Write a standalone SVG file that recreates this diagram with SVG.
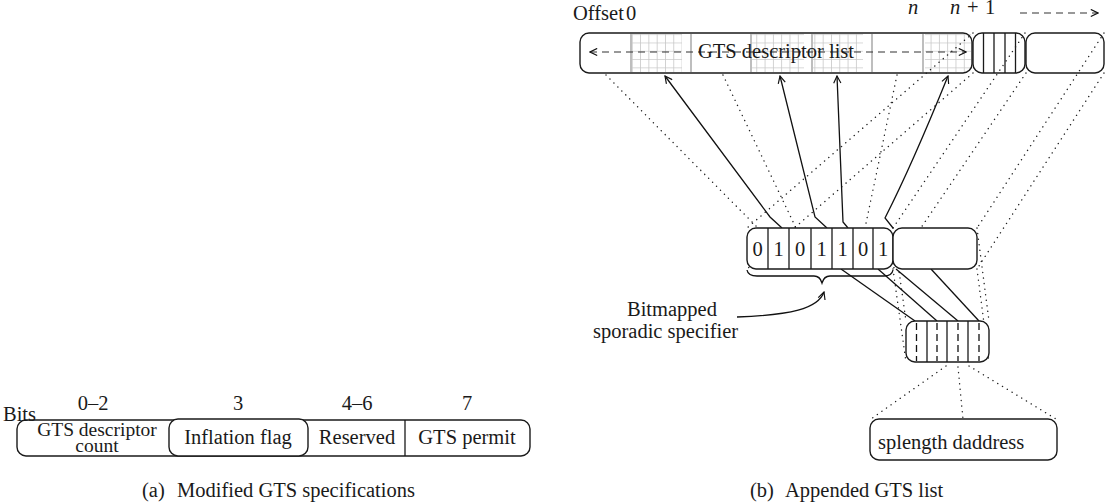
<svg xmlns="http://www.w3.org/2000/svg" width="1105" height="504" viewBox="0 0 1105 504">
<style>
text{font-family:"Liberation Serif","Times New Roman",serif;font-size:20.5px;fill:#1a1a1a}
.it{font-style:italic}
.box{fill:none;stroke:#1a1a1a;stroke-width:1.4}
.wbox{fill:#fff;stroke:#1a1a1a;stroke-width:1.4}
.cell{stroke:#1a1a1a;stroke-width:1.3}
.gdiv{stroke:#a8a8a8;stroke-width:1.5}
.dot{fill:none;stroke:#222;stroke-width:1.4;stroke-dasharray:0.1 5.5;stroke-linecap:round}
.sol{fill:none;stroke:#111;stroke-width:1.3}
.dash{fill:none;stroke:#333;stroke-width:1.2;stroke-dasharray:7 5}
.vdash{stroke:#111;stroke-width:1.3;stroke-dasharray:7 4}
.tight{font-size:19.5px}
</style>
<defs>
<pattern id="grid" patternUnits="userSpaceOnUse" x="1" y="1" width="8.3" height="8.3">
<path d="M0 0H8.3M0 0V8.3" stroke="#c8c8c8" stroke-width="1.6" fill="none"/>
</pattern>
<marker id="open" viewBox="0 0 10 10" refX="9" refY="5" markerWidth="9" markerHeight="9" orient="auto-start-reverse" markerUnits="userSpaceOnUse">
<path d="M1 1L9 5L1 9" fill="none" stroke="#111" stroke-width="1.3"/>
</marker>
</defs>

<!-- (a) modified GTS specification field -->
<g id="gts-spec">
<text x="3" y="421">Bits</text>
<text x="93" y="410" text-anchor="middle">0–2</text>
<text x="238" y="410" text-anchor="middle">3</text>
<text x="357" y="410" text-anchor="middle">4–6</text>
<text x="467" y="410" text-anchor="middle">7</text>
<rect class="box" x="17" y="420" width="513" height="36" rx="9"/>
<line class="cell" x1="405" y1="420" x2="405" y2="456"/>
<rect class="wbox" x="169" y="419" width="139" height="37" rx="9"/>
<text class="tight" x="97" y="436" text-anchor="middle">GTS descriptor</text>
<text class="tight" x="97" y="452" text-anchor="middle">count</text>
<text x="238" y="444" text-anchor="middle">Inflation flag</text>
<text x="357" y="444" text-anchor="middle">Reserved</text>
<text x="467" y="444" text-anchor="middle">GTS permit</text>
</g>
<g id="caption-a"><text x="142" y="497">(a)</text><text x="177" y="497">Modified GTS specifications</text></g>

<!-- (b) appended GTS list -->
<g id="offset-labels">
<text x="573" y="20">Offset<tspan x="626">0</tspan></text>
<text class="it" x="908" y="14">n</text>
<text x="950" y="14"><tspan class="it">n</tspan><tspan x="967">+</tspan><tspan x="985">1</tspan></text>
<path class="dash" d="M1020 13H1098" marker-end="url(#open)"/>
</g>

<g id="descriptor-list">
<rect x="632" y="34" width="50" height="38" fill="url(#grid)"/>
<rect x="752" y="34" width="52" height="38" fill="url(#grid)"/>
<rect x="813" y="34" width="50" height="38" fill="url(#grid)"/>
<rect x="925" y="34" width="46" height="38" fill="url(#grid)"/>
<g class="gdiv">
<line x1="631" y1="34" x2="631" y2="72"/>
<line x1="691" y1="34" x2="691" y2="72"/>
<line x1="751" y1="34" x2="751" y2="72"/>
<line x1="812" y1="34" x2="812" y2="72"/>
<line x1="872" y1="34" x2="872" y2="72"/>
<line x1="923" y1="34" x2="923" y2="72"/>
</g>
<rect class="box" x="580" y="33" width="392" height="40" rx="9"/>
<path class="dash" d="M590 52H966" marker-start="url(#open)" marker-end="url(#open)"/>
<text x="698" y="58">GTS descriptor list</text>
</g>

<g id="bitmap-slot">
<rect class="box" x="973" y="33" width="52" height="40" rx="9"/>
<g class="cell">
<line x1="983.5" y1="33" x2="983.5" y2="73"/>
<line x1="994" y1="33" x2="994" y2="73"/>
<line x1="1005" y1="33" x2="1005" y2="73"/>
<line x1="1015.5" y1="33" x2="1015.5" y2="73"/>
</g>
</g>
<g id="next-slot"><rect class="box" x="1026" y="33" width="78" height="40" rx="9"/></g>

<!-- projection lines -->
<g id="connectors">
<g class="dot">
<path d="M606 75L758 228"/>
<path d="M723 75L796 228"/>
<path d="M897 75L865 228"/>
<path d="M973 33L747 228"/>
<path d="M973 73L747 269"/>
<path d="M1025 33L893 228"/>
<path d="M1026 73L893 269"/>
<path d="M1104 33L977 228"/>
<path d="M1104 73L977 269"/>
<path d="M893 228L906 321"/>
<path d="M893 269L906 362"/>
<path d="M977 228L989 321"/>
<path d="M977 269L989 362"/>
<path d="M946 366L871 419"/>
<path d="M958 367L963 419"/>
<path d="M969 366L1056 419"/>
</g>
<g class="sol">
<path d="M782 228L770 217L665 76" marker-end="url(#open)"/>
<path d="M827 228L815 217L780 76" marker-end="url(#open)"/>
<path d="M848 228L843 222L837 76" marker-end="url(#open)"/>
<path d="M893 228L885 218Q912 165 948 76" marker-end="url(#open)"/>
<path d="M841 269L915 321"/>
<path d="M878 269L937 321"/>
<path d="M896 269L958 321"/>
<path d="M931 269L979 321"/>
<path d="M747 270Q748 276 757 276H814Q820 276 822 283Q824 276 830 276H884Q892 276 893 270"/>
<path d="M737 317C790 315 818 309 824 292" marker-end="url(#open)"/>
</g>
</g>

<g id="bitmap">
<rect class="wbox" x="747" y="228" width="146" height="41" rx="9"/>
<g class="cell">
<line x1="768" y1="228" x2="768" y2="269"/>
<line x1="789" y1="228" x2="789" y2="269"/>
<line x1="811" y1="228" x2="811" y2="269"/>
<line x1="832" y1="228" x2="832" y2="269"/>
<line x1="853" y1="228" x2="853" y2="269"/>
<line x1="873" y1="228" x2="873" y2="269"/>
</g>
<g text-anchor="middle">
<text x="757.5" y="256">0</text>
<text x="778.5" y="256">1</text>
<text x="800" y="256">0</text>
<text x="821.5" y="256">1</text>
<text x="842.5" y="256">1</text>
<text x="863" y="256">0</text>
<text x="883" y="256">1</text>
</g>
</g>
<g id="empty-slot"><rect class="wbox" x="893" y="228" width="84" height="41" rx="9"/></g>

<g id="bitmap-label">
<text x="627" y="316">Bitmapped</text>
<text x="593" y="338">sporadic specifier</text>
</g>

<g id="split-field">
<rect class="wbox" x="906" y="321" width="83" height="41" rx="9"/>
<g class="cell">
<line x1="927" y1="321" x2="927" y2="362"/>
<line x1="947" y1="321" x2="947" y2="362"/>
<line x1="968" y1="321" x2="968" y2="362"/>
</g>
<g class="vdash">
<line x1="916.5" y1="323" x2="916.5" y2="361"/>
<line x1="937" y1="323" x2="937" y2="361"/>
<line x1="958" y1="323" x2="958" y2="361"/>
<line x1="979" y1="323" x2="979" y2="361"/>
</g>
</g>

<g id="address-field">
<rect class="box" x="870" y="419" width="187" height="41" rx="9"/>
<text x="878" y="449">splength daddress</text>
</g>
<g id="caption-b"><text x="750" y="497">(b)</text><text x="785" y="497">Appended GTS list</text></g>
</svg>
